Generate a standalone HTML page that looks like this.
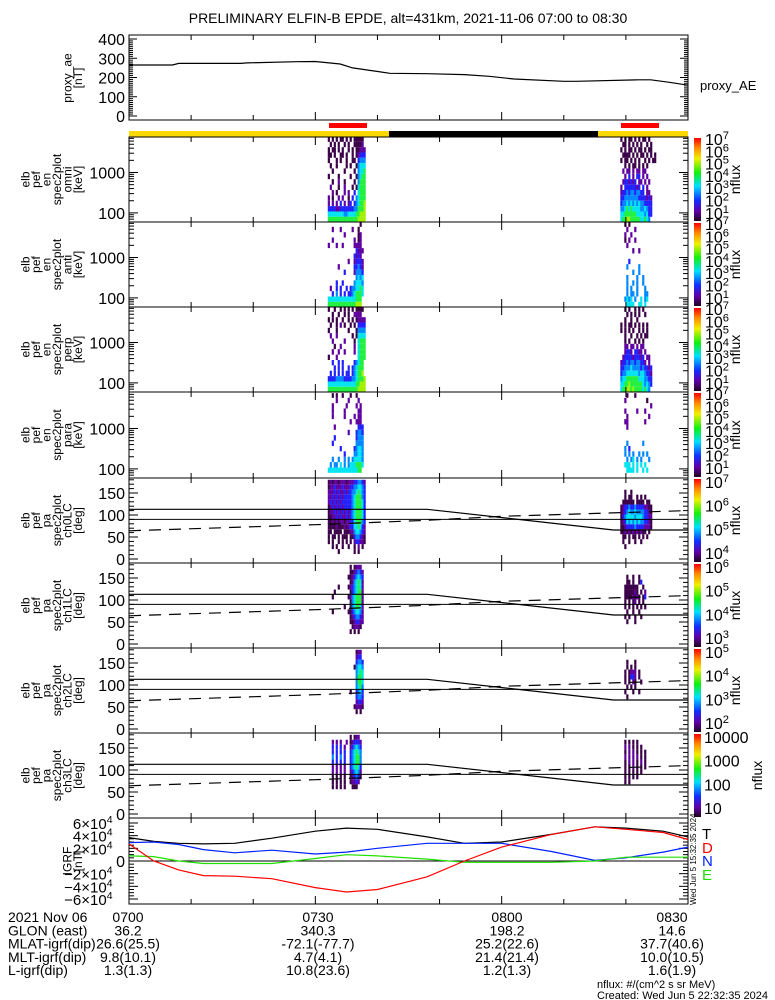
<!DOCTYPE html>
<html><head><meta charset="utf-8">
<style>
html,body{margin:0;padding:0;background:#fff;}
svg{display:block;font-family:"Liberation Sans",sans-serif;}
</style></head>
<body>
<svg id="chart" width="775" height="1000" viewBox="0 0 775 1000" xmlns="http://www.w3.org/2000/svg">
<defs>
<linearGradient id="cbar" x1="0" y1="0" x2="0" y2="1">
<stop offset="0" stop-color="#ff0000"/><stop offset="0.12" stop-color="#ff8a00"/>
<stop offset="0.25" stop-color="#f0f000"/><stop offset="0.42" stop-color="#10f010"/>
<stop offset="0.58" stop-color="#00e0ff"/><stop offset="0.75" stop-color="#1030ff"/>
<stop offset="0.88" stop-color="#6000a8"/><stop offset="1" stop-color="#200020"/>
</linearGradient>
</defs>
<text x="408" y="23" font-size="14" text-anchor="middle">PRELIMINARY ELFIN-B EPDE, alt=431km, 2021-11-06 07:00 to 08:30</text>
<g id="g"></g>
</svg>
<script>
// ---------- data ----------
const aeTimes=[0,7,8,18,19,27,30,34,36,42,48,54,58,62,70,72,82,84,87,90];
const aeValues=[265,265,273,273,276,282,283,270,250,222,220,215,206,192,180,180,188,188,175,160];

const igrfTimes=[0,4,8,12,17,23,30,35,40,48,54,60,68,75,80,86,90];
const igrfT=[37000,31000,28000,27000,28000,36000,47000,52000,50000,38000,28000,30000,42000,54000,52000,47000,38000];
const igrfD=[27000,0,-14000,-23000,-24000,-28000,-42000,-49000,-45000,-25000,0,22000,42000,54000,50000,45000,34000];
const igrfN=[29000,30000,26000,18000,13000,17000,11000,14000,20000,28000,28000,28000,15000,1000,5000,14000,22000];
const igrfE=[8000,7000,0,-4000,-4000,-4000,4000,10000,8000,3000,-2000,-2000,-2000,0,6000,6000,6000];

const lcTimes=[0,48,78,90];
const lcUpper=[113,113,66,66];
const dashTimes=[0,30,48,60,90];
const dashValues=[64,78,88,97,110];

const passTimes=[32.0,79.1];   // start minute of each pass
const colStep=0.32;           // minutes per column
const energyEdges=[50,80,108,147,200,272,369,500,684,927,1259,1707,2310,3128,4234,5737,7500];
const paEdges=[0,11.25,22.5,33.75,45,56.25,67.5,78.75,90,101.25,112.5,123.75,135,146.25,157.5,168.75,180];

const omniL=["1.1.1.11.1.1.11111.",".1.1.1..1.1..11112.","1.11.1.1..1.1.11222","11.1..11.1..1.12333","1...1.1..1..11.3444",".1..1....1.1..14555","..1.....1....1.4556","1....1.....1..14566","..1..2..1....1.4666",".2...1..2...1.15666","..2.1...2.2..3.5666","2.1..2.2..1.3.45666","2.2.2.3.2.23.345667","3333223333333446667","5555555544555566777","6666666666666667777"];
const omniR=["1.1.11.1.1.11.1....",".11.1.1.1.1..1.1...","1.1.11.1.11.1.11...",".1111.1.1.11.1.1.1.","1.11.1.1.1..1.1.11.","..1.1.11.1.1.1.....",".2.22.2.22.22......","..2.3.2.33.2.2.....",".2332323.22.2.2....","2.33333323.3.2.....","233434434433.22....","3344444443333232...","3445454545443333...","4456565555445433...","5566666655554533...","566776666655654...."];
const antiL=["................1..","..2...2.....2..1...","........2......12..","..2..........2.12..","2...2..2.....2222..","..............3222.",".............3232..","..........2..23332.",".....2.......33432.","........3....24443.","..............4545.","....3..3.....45554.",".2..3.3..3.3445565.","..3.4.3.3.33456665.","55555555555555666..","66666666666666777.."];
const antiR=["..1.1..............","...2...2...........","..2..2.............","..1.2..2...........","...2...............","......2..2.........","...................","....3..............","...4.....4.........","......4..4.........","...4....4..4.......","...4..4.4..4.......","...4.4..4...4......","...4.44.4...44.....","..4545.4..5.45.....","...5555..55.5......"];
const perpL=["1..1..1.1.1.1.1111.","..1..1..1.1..2222..","1.1.1..1..1.1.12222",".1..1.2.1..1.1.3333","1...1.....1...14444",".2..2.......1.15555","..2.....2....1.5666","...1..2......2.5666","..2..2..2....2.5666","1...2..........5666","..3..3.3.....34566","...3.3.3..3.345666",".3.3.3.3.33.345667","3333444433334456667","5555555555555566777","6666666666666667777"];
const perpR=["..1.1..1.1.1.......","...1.1.1.1..1......","..1..1..1..........","1.1.11.1.1.1.1.....","1.1.1.1..1.1.1.....","..1..1..1.1.11.....","..1.1..1.1.1.......","..22.22.2.22.......","..2332.3322.2......",".23333233323.22....","2334344344332.2....","3344454444343323...","3445555554554332...","4556666665554433...","5566766666654543...","566776766665654...."];
const paraL=["..1.1..1...1..1....","....2.....2....2...","..2......2....2.2..","..2.....2......22..","..2.....2....2.22..","...........2..222..","...2...........333.","..........2...3443.","...3..........3444.","..3...........4444.","......3......34554.","........3....44554.","..4..4..4.4.455554.",".4.44.5.4.45556665.","55555555555555566..","..................."];
const paraR=["...1...1...........","..2..........1.....","...............2...","..2.....2...2......","...2..........2....","..22........2......","...2...............","...................","...................","...4.......4.......","..4.3..............","..4.4.4..4.4.4.....","...4.45.4.4...4....","..555.5.5.5.5......","...5555.5..5.5.....","..................."];
const ch0L=["1212212221222334432","1223222322233445543","2223232232334456543","2232323233334566643","2323232333334566653","1232323233334566653","1223232323234566653","1122323223234566653","1121212212233566643","1111211121233556532","11.1111.11122455432","1.11.1.111.11344321","1.1..1.1.1.1.233221","..1.1..1..1..1.2.1.",".....1.......1.1...","..................."];
const ch0R=["...................","...................","..1..1.............","..1.11..1.1.1......",".111111.1111.11....","1233433433332211...","1234544544443321...","1345555455543322...","1235454545443321...","1123333433332221...","1121212121211.1....",".11.1.11.1.1.1.....",".1..1..1..1........","..1................","...................","..................."];
const ch1L=["...........1.1222..","...........1123432.","..........11234543.","...........1245652.",".....1....12345652.","...1.......1345662.","..1.......12456662.","...........1456662.","........1..1456652.","..1.......11345542.","...........1234432.","...........1123322.","............12221..","...........1.1.1...","...................","..................."];
const ch1R=["...................","...................","...1..1..1.........","...11.1..13........","..1111111..1.......","..1111121.1.2......","..11112121.13......","..1.1.12.1.1.......","..1.1.1.1.1.1......","...1..1..1.........","..1.1..1..1........","...1...1...........","...................","...................","...................","..................."];
const ch2L=["..............122..","..............233..","..............3443.",".............14554.","..............4565.","..............4665.","..............4665.","..............4564.","...........1..3453.","..............3443.","..............2332.",".............12221.","..............1.1..","...................","...................","..................."];
const ch2R=["...................","...................","...1...1...........","...1.1.1...........","..1.1222.1.........","..1.1332.1.........","..1.1.21..1........","...1.1.1...........","..1...1..1.........","...1...............","...................","...................","...................","...................","...................","..................."];
const ch3L=["...........1.122...","..2.2.2..2.123332..","..3.3.3.2..234543..","..3.3.3.3..345654..","..4.3.4.3..345664..","..3.3.3.3..345664..","..2.2.2.2..345653..","..2.2.2.2..234542..","..1.1.1.1..123431..","..1.1.1.1..12232...","..1.1.1.1...111....","...................","...................","...................","...................","..................."];
const ch3R=["...................","..1.1.1.1..........","..2.2.1.1.1........","..1.2.2.1.1.1......","..2.2.2.2.1.1......","..1.2.2.1.2.1......","..1.1.2.1.1.1......","..1.1.1.1.1........","..1.1.1.1..........","..1.1..............","...................","...................","...................","...................","...................","..................."];

const cbLabels1=["7","6","5","4","3","2","1"];
const cbLabels5=["7","6","5","4"];
const cbLabels6=["6","5","4","3"];
const cbLabels7=["5","4","3","2"];
const cbLabels8=["10000","1000","100","10"];

// ---------- helpers ----------
const NS="http://www.w3.org/2000/svg";
const G=document.getElementById('g');
const X0=129,X1=688;
const xs=t=>X0+t*(X1-X0)/90;
const levelColors=["none","#3a0048","#6000a0","#2020ff","#0088ff","#00e4f0","#20f040","#a0f000"];
function mk(tag,attrs,parent){const e=document.createElementNS(NS,tag);for(const k in attrs)e.setAttribute(k,attrs[k]);(parent||G).appendChild(e);return e;}
function txt(x,y,s,size,anchor,parent){const t=mk('text',{x:x,y:y,'font-size':size||13,'text-anchor':anchor||'start'},parent);t.textContent=s;return t;}
function line(x1,y1,x2,y2,parent,extra){return mk('line',Object.assign({x1:x1,y1:y1,x2:x2,y2:y2,stroke:'#000','stroke-width':1},extra||{}),parent);}
function pow10(x,y,exp,size,parent){const t=mk('text',{x:x,y:y,'font-size':size,'text-anchor':'start'},parent);t.appendChild(document.createTextNode('10'));const s=document.createElementNS(NS,'tspan');s.setAttribute('dy',-6);s.setAttribute('font-size',size*0.7);s.textContent=exp;t.appendChild(s);return t;}
function timeTicks(top,bot,parent){
  for(let m=10;m<90;m+=10){const x=xs(m);const L=(m%30===0)?8:5;line(x,bot,x,bot-L,parent);line(x,top,x,top+L,parent);}
}
function leftLabel(lines,cy,parent){
  const n=lines.length;const xc=[];
  lines.forEach((s,i)=>{const x=82-(n-1-i)*10.5;const t=mk('text',{x:x,y:cy,'font-size':12,'text-anchor':'middle',transform:'rotate(-90 '+x+' '+cy+')'},parent);t.textContent=s;});
}
function polyline(times,vals,xf,yf,color,parent,dash){
  let d='';times.forEach((t,i)=>{d+=(i?'L':'M')+xf(t).toFixed(1)+' '+yf(vals[i]).toFixed(1);});
  return mk('path',{d:d,fill:'none',stroke:color,'stroke-width':1.2,'stroke-dasharray':dash||'none'},parent);
}
function drawMatrix(mat,t0,edges,yf,parent,name){
  const g=mk('g',{},parent);
  
  
  const nr=mat.length;
  mat.forEach((row,r)=>{
    const bin=nr-1-r;const yTop=yf(edges[bin+1]),yBot=yf(edges[bin]);
    for(let c=0;c<row.length;c++){const ch=row[c];if(ch==='.'||ch===' ')continue;
      const x=xs(t0+c*colStep),w=xs(t0+(c+1)*colStep)-x;
      const rc=mk('rect',{x:x.toFixed(2),y:yTop.toFixed(2),width:(w+0.2).toFixed(2),height:(yBot-yTop).toFixed(2),fill:levelColors[+ch]},g);
      
      
    }
  });
}
function colorbar(top,bot,labels,ypos,isPow,nfluxX,parent){
  const g=mk('g',{},parent);
  
  
  mk('rect',{x:694,y:top+1,width:7,height:bot-top-2,fill:'url(#cbar)'},g);
  labels.forEach((l,i)=>{const y=ypos[i];if(isPow)pow10(705,y,l,16,g);else txt(704,y,l,16,'start',g);});
  const cy=(top+bot)/2;const t=mk('text',{x:nfluxX,y:cy,'font-size':14,'text-anchor':'middle',transform:'rotate(-90 '+nfluxX+' '+cy+')'},g);t.textContent='nflux';
  
  
}

// ---------- proxy AE panel ----------
(function(){
  const top=35,bot=120;const yf=v=>116-v*0.1925;
  const g=mk('g',{});
  
  
  mk('rect',{x:X0,y:top,width:X1-X0,height:bot-top,fill:'none',stroke:'#000','stroke-width':1},g);
  for(let v=0;v<=400;v+=10){const y=yf(v);const L=v%100===0?8:4;line(X0,y,X0+L,y,g);line(X1,y,X1-L,y,g);}
  [0,100,200,300,400].forEach(v=>txt(125,yf(v)+6,String(v),16,'end',g));
  timeTicks(top,bot,g);
  const p=polyline(aeTimes,aeValues,xs,yf,'#000',g);
  
  
  leftLabel(['proxy_ae','[nT]'],78,g);
  txt(700,90,'proxy_AE',13,'start',g);
})();

// ---------- status bars ----------
(function(){
  const g=mk('g',{});
  
  
  mk('rect',{x:329,y:123,width:38,height:5,fill:'#ff0000'},g);
  mk('rect',{x:621,y:123,width:38,height:5,fill:'#ff0000'},g);
  mk('rect',{x:129,y:131,width:260,height:6,fill:'#ffd800'},g);
  mk('rect',{x:389,y:131,width:209,height:6,fill:'#000'},g);
  mk('rect',{x:598,y:131,width:90,height:6,fill:'#ffd800'},g);
})();

// ---------- energy panels ----------
const ePanels=[
  {top:137,bot:222,name:'omni',L:omniL,R:omniR},
  {top:222,bot:307,name:'anti',L:antiL,R:antiR},
  {top:307,bot:392,name:'perp',L:perpL,R:perpR},
  {top:392,bot:478,name:'para',L:paraL,R:paraR}];
ePanels.forEach(p=>{
  const g=mk('g',{});
  
  
  const b=p.bot-1;const yf=e=>b-(Math.log10(e)-Math.log10(63))*40.4;
  mk('clipPath',{id:'c'+p.name},g).appendChild(Object.assign(document.createElementNS(NS,'rect'),{}));
  const cp=g.lastChild.firstChild;cp.setAttribute('x',X0);cp.setAttribute('y',p.top);cp.setAttribute('width',X1-X0);cp.setAttribute('height',p.bot-p.top);
  const inner=mk('g',{'clip-path':'url(#c'+p.name+')'},g);
  drawMatrix(p.L,passTimes[0],energyEdges,yf,inner,'pass1-'+p.name);
  drawMatrix(p.R,passTimes[1],energyEdges,yf,inner,'pass2-'+p.name);
  mk('rect',{x:X0,y:p.top,width:X1-X0,height:p.bot-p.top,fill:'none',stroke:'#000','stroke-width':1},g);
  for(let d=1;d<=4;d++)for(let k=1;k<10;k++){const e=k*Math.pow(10,d);const y=yf(e);if(y<p.top+1||y>p.bot-1)continue;const L=k===1?9:5;line(X0,y,X0+L,y,g);line(X1,y,X1-L,y,g);}
  txt(125,yf(1000)+6,'1000',16,'end',g);txt(125,yf(100)+6,'100',16,'end',g);
  timeTicks(p.top,p.bot,g);
  leftLabel(['elb','pef','en','spec2plot',p.name,'[keV]'],(p.top+p.bot)/2,g);
  const ys=cbLabels1.map((l,i)=>p.top+8+i*12.3);
  colorbar(p.top,p.bot,cbLabels1,ys,true,740,g);
});

// ---------- pitch-angle panels ----------
const aPanels=[
  {top:478,bot:563,name:'ch0LC',L:ch0L,R:ch0R,cb:cbLabels5,pow:true},
  {top:563,bot:648,name:'ch1LC',L:ch1L,R:ch1R,cb:cbLabels6,pow:true},
  {top:648,bot:733,name:'ch2LC',L:ch2L,R:ch2R,cb:cbLabels7,pow:true},
  {top:733,bot:818,name:'ch3LC',L:ch3L,R:ch3R,cb:cbLabels8,pow:false}];
aPanels.forEach((p,pi)=>{
  const g=mk('g',{});
  
  
  const yf=v=>p.bot-4-v*0.44;
  drawMatrix(p.L,passTimes[0],paEdges,yf,g,'pass1-'+p.name);
  drawMatrix(p.R,passTimes[1],paEdges,yf,g,'pass2-'+p.name);
  mk('rect',{x:X0,y:p.top,width:X1-X0,height:p.bot-p.top,fill:'none',stroke:'#000','stroke-width':1},g);
  const l1=polyline(lcTimes,lcUpper,xs,yf,'#000',g);
  
  
  line(X0,yf(90),X1,yf(90),g);
  const l2=polyline(dashTimes,dashValues,xs,yf,'#000',g,'12 8');
  
  
  for(let v=0;v<=180;v+=10){const y=yf(v);if(y<p.top)continue;const L=v%50===0?9:5;line(X0,y,X0+L,y,g);line(X1,y,X1-L,y,g);}
  [0,50,100,150].forEach(v=>txt(125,yf(v)+6,String(v),16,'end',g));
  timeTicks(p.top,p.bot,g);
  leftLabel(['elb','pef','pa','spec2plot',p.name,'[deg]'],(p.top+p.bot)/2,g);
  const n=p.cb.length;const ys=p.cb.map((l,i)=>p.top+10+i*(p.bot-p.top-14)/(n-1));
  colorbar(p.top,p.bot,p.cb,ys,p.pow,p.pow?740:762,g);
});

// ---------- IGRF panel ----------
(function(){
  const top=818,bot=904;const yf=v=>861-v*38/60000;
  const g=mk('g',{});
  
  
  mk('rect',{x:X0,y:top,width:X1-X0,height:bot-top,fill:'none',stroke:'#000','stroke-width':1},g);
  for(let v=-60000;v<=60000;v+=5000){const y=yf(v);const L=v%20000===0?9:5;line(X0,y,X0+L,y,g);line(X1,y,X1-L,y,g);}
  line(X0,yf(0),X1,yf(0),g);
  [60000,40000,20000,-20000,-40000,-60000].forEach(v=>{const s=(v<0?'−':'')+Math.abs(v/10000)+'×';const t=mk('text',{x:90,y:yf(v)+6,'font-size':15,'text-anchor':'end'},g);t.textContent=s;pow10(90,yf(v)+6,'4',15,g);});
  txt(125,yf(0)+6,'0',16,'end',g);
  timeTicks(top,bot,g);
  const series=[[igrfT,'#000','igrf-t-line'],[igrfN,'#0020ff','igrf-n-line'],[igrfE,'#20e000','igrf-e-line'],[igrfD,'#ff0000','igrf-d-line']];
  series.forEach(s=>{const p=polyline(igrfTimes,s[0],xs,yf,s[1],g);});
  leftLabel(['IGRF','[nT]'],861,g);
  [['T','#000',839],['D','#ff0000',853],['N','#0020ff',866],['E','#20e000',880]].forEach(a=>{const t=txt(702,a[2],a[0],15,'start',g);t.setAttribute('fill',a[1]);});
  const st=mk('text',{x:696,y:905,'font-size':8,transform:'rotate(-90 696 905)'},g);st.textContent='Wed Jun  5 15:32:35 2024';
})();

// ---------- ephemeris text ----------
(function(){
  const g=mk('g',{});
  
  
  const rows=[['2021 Nov 06','0700','0730','0800','0830'],['GLON (east)','36.2','340.3','198.2','14.6'],['MLAT-igrf(dip)','26.6(25.5)','-72.1(-77.7)','25.2(22.6)','37.7(40.6)'],['MLT-igrf(dip)','9.8(10.1)','4.7(4.1)','21.4(21.4)','10.0(10.5)'],['L-igrf(dip)','1.3(1.3)','10.8(23.6)','1.2(1.3)','1.6(1.9)']];
  const cx=[128,318,507,672];
  rows.forEach((r,i)=>{const y=922+i*13.3;txt(8,y,r[0],14,'start',g);for(let k=1;k<5;k++)txt(cx[k-1],y,r[k],14,'middle',g);});
  txt(597,988,'nflux: #/(cm^2 s sr MeV)',11,'start',g);
  txt(597,999,'Created: Wed Jun  5 22:32:35 2024',11,'start',g);
})();
</script>
</body></html>
